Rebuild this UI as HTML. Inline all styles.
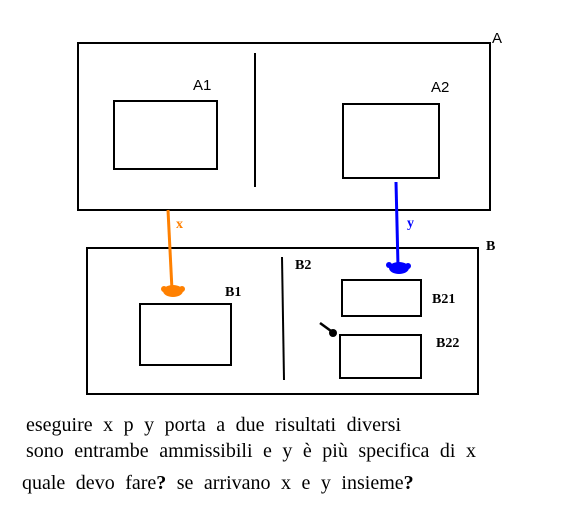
<!DOCTYPE html>
<html><head><meta charset="utf-8"><style>
html,body{margin:0;padding:0;background:#fff;width:562px;height:518px;overflow:hidden}
svg{display:block}
</style></head><body>
<svg width="562" height="518" viewBox="0 0 562 518" font-family="Liberation Sans, sans-serif">
<g fill="none" stroke="#000" stroke-width="2">
<rect x="78" y="43" width="412" height="167"/>
<rect x="114" y="101" width="103" height="68"/>
<rect x="343" y="104" width="96" height="74"/>
<line x1="255" y1="53" x2="255" y2="187"/>
<rect x="87" y="248" width="391" height="146"/>
<rect x="140" y="304" width="91" height="61"/>
<rect x="342" y="280" width="79" height="36"/>
<rect x="340" y="335" width="81" height="43"/>
<line x1="282" y1="257" x2="284" y2="380"/>
</g>
<g font-size="15" fill="#000">
<text x="492" y="43">A</text>
<text x="193" y="90">A1</text>
<text x="431" y="92">A2</text>
</g>
<g font-family="Liberation Serif, serif" font-weight="bold" font-size="14" fill="#000">
<text x="486" y="250">B</text>
<text x="295" y="269">B2</text>
<text x="225" y="296">B1</text>
<text x="432" y="303">B21</text>
<text x="436" y="347">B22</text>
</g>
<g>
<line x1="168" y1="210" x2="172" y2="290" stroke="#ff8000" stroke-width="3"/>
<ellipse cx="173" cy="291" rx="10" ry="6" fill="#ff8000"/>
<circle cx="164" cy="289" r="3" fill="#ff8000"/>
<circle cx="182" cy="289" r="3" fill="#ff8000"/>
<text x="176" y="228" font-family="Liberation Serif, serif" font-weight="bold" font-size="14" fill="#ff8000">x</text>
</g>
<g>
<line x1="396" y1="182" x2="398" y2="266" stroke="#0000ff" stroke-width="3"/>
<ellipse cx="399" cy="268" rx="10" ry="6" fill="#0000ff"/>
<circle cx="389" cy="265" r="3" fill="#0000ff"/>
<circle cx="408" cy="266" r="3" fill="#0000ff"/>
<text x="407" y="227" font-family="Liberation Serif, serif" font-weight="bold" font-size="14" fill="#0000ff">y</text>
</g>
<g>
<line x1="320" y1="323" x2="331" y2="331" stroke="#000" stroke-width="2.5"/>
<circle cx="333" cy="333" r="4" fill="#000"/>
</g>
<g font-family="Liberation Serif, serif" font-size="20" fill="#000" word-spacing="5.5">
<text x="26" y="431">eseguire x p y porta a due risultati diversi</text>
<text x="26" y="457">sono entrambe ammissibili e y è più specifica di x</text>
<text x="22" y="489">quale devo fare<tspan font-weight="bold">?</tspan> se arrivano x e y insieme<tspan font-weight="bold">?</tspan></text>
</g>
</svg>
</body></html>
